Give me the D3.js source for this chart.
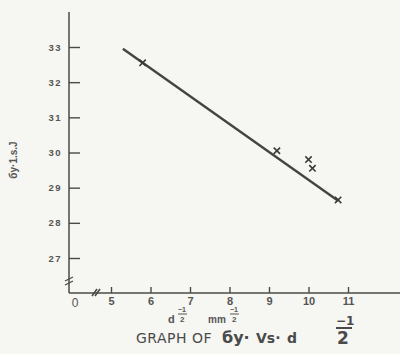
<!DOCTYPE html>
<html>
<head>
<meta charset="utf-8">
<script src="https://cdn.jsdelivr.net/npm/d3@7"></script>
<style>
  body { margin: 0; background: #f6f6f2; }
  svg { display: block; }
  .tick text { font-family: "Liberation Sans", sans-serif; font-weight: bold; fill: #555; }
</style>
</head>
<body>
<div class="chart"></div>
<script>
var svgWidth = 400;
var svgHeight = 354;

// values
var pointX = [5.8, 9.2, 10.0, 10.1, 10.75];
var pointY = [32.55, 30.05, 29.8, 29.55, 28.65];
var fitX = [5.3, 10.75];
var fitY = [32.95, 28.63];
var xTicks = [5, 6, 7, 8, 9, 10, 11];
var yTicks = [27, 28, 29, 30, 31, 32, 33];

var ink = "#4a4a4a";

var svg = d3.select(".chart")
  .append("svg")
  .attr("width", svgWidth)
  .attr("height", svgHeight);

var xScale = d3.scaleLinear().domain([5, 11]).range([111, 348]);
var yScale = d3.scaleLinear().domain([27, 33]).range([258, 47]);

var originX = 69, originY = 293;

// axis lines
svg.append("line")
  .attr("x1", originX).attr("x2", originX)
  .attr("y1", 12).attr("y2", originY)
  .attr("stroke", ink).attr("stroke-width", 1.5);
svg.append("line")
  .attr("x1", originX).attr("x2", 400)
  .attr("y1", originY).attr("y2", originY)
  .attr("stroke", ink).attr("stroke-width", 1.5);

var bottomAxis = d3.axisBottom(xScale).tickValues(xTicks).tickFormat(d3.format("d"))
  .tickSize(-6).tickPadding(4);
var leftAxis = d3.axisLeft(yScale).tickValues(yTicks).tickFormat(d3.format("d"))
  .tickSize(-11).tickPadding(7);

var gx = svg.append("g").attr("transform", `translate(0, ${originY})`).call(bottomAxis);
gx.select(".domain").remove();
gx.selectAll("line").attr("stroke", ink).attr("stroke-width", 1.4);
gx.selectAll("text").attr("font-size", 11);

var gy = svg.append("g").attr("transform", `translate(${originX}, 0)`).call(leftAxis);
gy.select(".domain").remove();
gy.selectAll("line").attr("stroke", ink).attr("stroke-width", 1.4);
gy.selectAll("text").attr("font-size", 9.5).attr("letter-spacing", 1.5);

// origin label
svg.append("text")
  .attr("x", 75).attr("y", originY + 14)
  .attr("text-anchor", "middle")
  .attr("font-family", "Liberation Sans, sans-serif")
  .attr("font-size", 12).attr("fill", "#555")
  .text("0");

// axis breaks
svg.append("path")
  .attr("d", "M65,281 L73,277 M65,285 L73,281")
  .attr("stroke", ink).attr("stroke-width", 1.3).attr("fill", "none");
svg.append("path")
  .attr("d", "M92,296 L97,289 M95,296 L100,289")
  .attr("stroke", ink).attr("stroke-width", 1.6).attr("fill", "none");

// fitted line
var line = d3.line().x(d => xScale(d[0])).y(d => yScale(d[1]));
svg.append("path")
  .datum(d3.zip(fitX, fitY))
  .attr("d", line)
  .attr("fill", "none")
  .attr("stroke", "#444")
  .attr("stroke-width", 2.4);

// observed points
svg.selectAll(".pt")
  .data(d3.zip(pointX, pointY))
  .enter()
  .append("path")
  .attr("class", "pt")
  .attr("transform", d => `translate(${xScale(d[0])}, ${yScale(d[1])})`)
  .attr("d", d3.symbol(d3.symbolX, 28))
  .attr("fill", "none")
  .attr("stroke", "#3a3a3a")
  .attr("stroke-width", 1.6);

// y label
svg.append("text")
  .attr("transform", "translate(17, 160) rotate(-90)")
  .attr("text-anchor", "middle")
  .attr("font-family", "Liberation Sans, sans-serif")
  .attr("font-size", 10).attr("font-weight", "bold").attr("fill", "#555")
  .text("бy·1.s.J");

// x label: d^-1/2  mm^-1/2
var xl = svg.append("g")
  .attr("font-family", "Liberation Sans, sans-serif")
  .attr("font-weight", "bold").attr("fill", "#555");
xl.append("text").attr("x", 168).attr("y", 323).attr("font-size", 11).text("d");
xl.append("text").attr("x", 178).attr("y", 312).attr("font-size", 7).text("−1");
xl.append("line").attr("x1", 178).attr("x2", 187).attr("y1", 314).attr("y2", 314)
  .attr("stroke", "#555").attr("stroke-width", 1);
xl.append("text").attr("x", 180).attr("y", 322).attr("font-size", 8).text("2");
xl.append("text").attr("x", 208).attr("y", 323).attr("font-size", 10).text("mm");
xl.append("text").attr("x", 230).attr("y", 312).attr("font-size", 7).text("−1");
xl.append("line").attr("x1", 230).attr("x2", 239).attr("y1", 314).attr("y2", 314)
  .attr("stroke", "#555").attr("stroke-width", 1);
xl.append("text").attr("x", 232).attr("y", 322).attr("font-size", 8).text("2");

// title
var tl = svg.append("g")
  .attr("font-family", "DejaVu Sans, sans-serif")
  .attr("fill", "#4a4a4a");
tl.append("text").attr("x", 136).attr("y", 343).attr("font-size", 14)
  .attr("letter-spacing", 0.5).text("GRAPH OF");
tl.append("text").attr("x", 222).attr("y", 343).attr("font-size", 16)
  .attr("font-weight", "bold").text("бy·");
tl.append("text").attr("x", 256).attr("y", 343).attr("font-size", 14)
  .attr("font-weight", "bold").text("Vs·");
tl.append("text").attr("x", 287).attr("y", 343).attr("font-size", 14)
  .attr("font-weight", "bold").text("d");
tl.append("text").attr("x", 336).attr("y", 325).attr("font-size", 12)
  .attr("font-weight", "bold").text("−1");
tl.append("line").attr("x1", 336).attr("x2", 352).attr("y1", 328).attr("y2", 328)
  .attr("stroke", "#4a4a4a").attr("stroke-width", 2);
tl.append("text").attr("x", 337).attr("y", 344).attr("font-size", 17)
  .attr("font-weight", "bold").text("2");
</script>
</body>
</html>
